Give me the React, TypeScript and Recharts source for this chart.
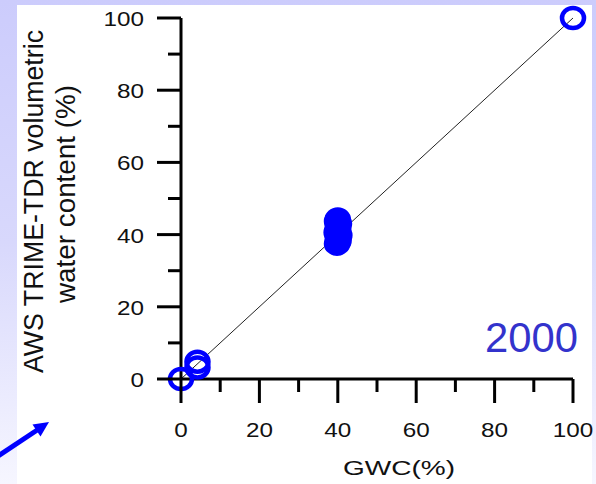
import { ScatterChart, Scatter, XAxis, YAxis, ReferenceLine } from "recharts"

// GWC (%) vs AWS TRIME-TDR volumetric water content (%), year 2000
const gwc = [0, 4.2, 4.2, 39.8, 40.2, 40, 40.4, 39.7, 40.1, 40, 40.3, 39.8, 40, 100]
const trime = [0, 3.2, 4.8, 37.5, 38.3, 39.1, 39.8, 40.6, 41.4, 42.2, 43, 43.7, 44.2, 100]

// 1:1 line
const lineX = [0, 100]
const lineY = [0, 100]

const axisTicks = [0, 10, 20, 30, 40, 50, 60, 70, 80, 90, 100]

const points = gwc.map((x, i) => ({ x, y: trime[i] }))

const font = "'Liberation Sans', Arial, sans-serif"

function XTick(props: any) {
  const { x, y, payload } = props
  const major = payload.value % 20 === 0
  const label = String(payload.value)
  return (
    <g>
      <line x1={x} y1={y} x2={x} y2={y + (major ? 24 : 13)} stroke="#000" strokeWidth={3} />
      {major && (
        <text
          x={x}
          y={y + 58}
          textAnchor="middle"
          fontFamily={font}
          fontSize={19.5}
          fill="#111"
          textLength={label.length * 13.5}
          lengthAdjust="spacingAndGlyphs"
        >
          {label}
        </text>
      )}
    </g>
  )
}

function YTick(props: any) {
  const { x, y, payload } = props
  const major = payload.value % 20 === 0
  const label = String(payload.value)
  return (
    <g>
      <line x1={x} y1={y} x2={x - (major ? 24 : 13)} y2={y} stroke="#000" strokeWidth={3} />
      {major && (
        <text
          x={x - 37}
          y={y + 8}
          textAnchor="end"
          fontFamily={font}
          fontSize={19.5}
          fill="#111"
          textLength={label.length * 13.5}
          lengthAdjust="spacingAndGlyphs"
        >
          {label}
        </text>
      )}
    </g>
  )
}

function ring(props: any) {
  const { cx, cy } = props
  return <ellipse cx={cx} cy={cy} rx={11} ry={10} fill="none" stroke="#0000ff" strokeWidth={4.5} />
}

export default function App() {
  return (
    <div style={{ position: "absolute", left: 0, top: 0, width: 596, height: 484, overflow: "hidden" }}>
      {/* slide background */}
      <div
        style={{
          position: "absolute",
          inset: 0,
          background: "linear-gradient(180deg, #ccccfc 0%, #d8d8fc 50%, #f6f6ff 100%)",
        }}
      />
      <div style={{ position: "absolute", left: 17, top: 5, width: 575, height: 479, background: "#fff" }} />

      <div style={{ position: "absolute", left: 0, top: 0 }}>
        <ScatterChart width={596} height={484} margin={{ top: 18, right: 23, bottom: 0, left: 0 }}>
          <XAxis
            type="number"
            dataKey="x"
            domain={[0, 100]}
            ticks={axisTicks}
            interval={0}
            height={105}
            tickSize={0}
            tickMargin={0}
            stroke="#000"
            axisLine={{ stroke: "#000", strokeWidth: 3 }}
            tickLine={false}
            tick={<XTick />}
          />
          <YAxis
            type="number"
            dataKey="y"
            domain={[0, 100]}
            ticks={axisTicks}
            interval={0}
            width={181}
            tickSize={0}
            tickMargin={0}
            stroke="#000"
            axisLine={{ stroke: "#000", strokeWidth: 3 }}
            tickLine={false}
            tick={<YTick />}
          />
          <Scatter data={points} shape={ring} isAnimationActive={false} />
          <ReferenceLine
            segment={[
              { x: lineX[0], y: lineY[0] },
              { x: lineX[1], y: lineY[1] },
            ]}
            stroke="#222"
            strokeWidth={1}
          />
          <text x={399} y={475} textAnchor="middle" fontFamily={font} fontSize={21} fill="#111" textLength={112} lengthAdjust="spacingAndGlyphs">
            GWC(%)
          </text>
          <text
            transform="translate(43,201.5) rotate(-90)"
            textAnchor="middle"
            fontFamily={font}
            fontSize={27.5}
            fill="#111"
            textLength={343}
            lengthAdjust="spacingAndGlyphs"
          >
            AWS TRIME-TDR volumetric
          </text>
          <text
            transform="translate(75,194) rotate(-90)"
            textAnchor="middle"
            fontFamily={font}
            fontSize={27.5}
            fill="#111"
            textLength={218}
            lengthAdjust="spacingAndGlyphs"
          >
            water content (%)
          </text>
          <text x={578} y={352} textAnchor="end" fontFamily={font} fontSize={43} fill="#3333cc" textLength={93} lengthAdjust="spacingAndGlyphs">
            2000
          </text>
        </ScatterChart>
      </div>

      {/* pointer arrow in the lower left corner */}
      <svg width={596} height={484} style={{ position: "absolute", left: 0, top: 0 }}>
        <line x1={-2} y1={456} x2={38} y2={429.5} stroke="#0000ff" strokeWidth={5} />
        <polygon points="49,422 32.5,424.5 40.5,436.5" fill="#0000ff" />
      </svg>
    </div>
  )
}
